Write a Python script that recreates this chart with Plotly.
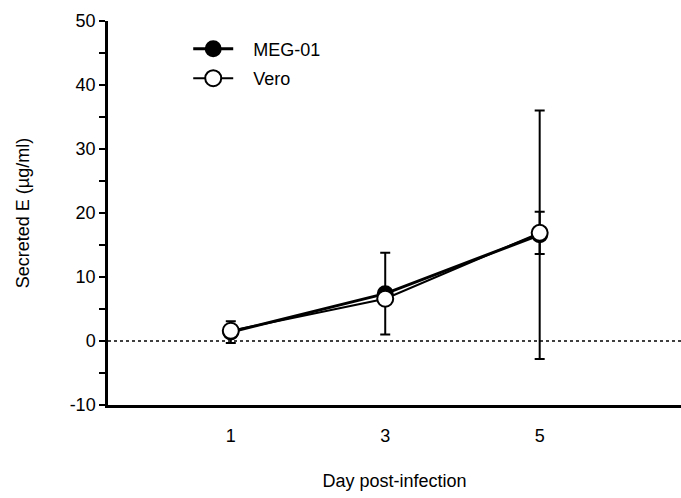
import plotly.graph_objects as go

days = [1, 3, 5]
meg01_mean = [1.4, 7.4, 16.6]
meg01_sd = [1.7, 6.4, 19.4]
vero_mean = [1.6, 6.6, 16.9]
vero_sd = [0.4, 0.5, 3.3]
y_ticks = [-10, 0, 10, 20, 30, 40, 50]
y_ticktext = ["-10", "0", "10", "20", "30", "40", "50"]

FONT = "Arial, Liberation Sans, sans-serif"
PAD = "\u00a0\u00a0\u00a0"

fig = go.Figure()

# zero reference line
fig.add_shape(type="line", xref="paper", yref="y", x0=0, x1=1, y0=0, y1=0,
              line=dict(color="black", width=1.5, dash="dot"), layer="below")

fig.add_trace(go.Scatter(
    x=days, y=meg01_mean, name=PAD + "MEG-01", mode="lines+markers",
    legendgroup="a",
    line=dict(color="black", width=3),
    marker=dict(symbol="circle", size=15, color="black",
                line=dict(color="black", width=2)),
    error_y=dict(type="data", array=meg01_sd, visible=True,
                 color="black", thickness=2, width=5),
))
fig.add_trace(go.Scatter(
    x=days, y=vero_mean, name=PAD + "Vero", mode="lines+markers",
    legendgroup="b",
    line=dict(color="black", width=2),
    marker=dict(symbol="circle", size=16, color="white",
                line=dict(color="black", width=2)),
    error_y=dict(type="data", array=vero_sd, visible=True,
                 color="black", thickness=2, width=5),
))

fig.update_layout(
    width=681, height=498,
    margin=dict(l=108, r=0, t=21, b=93),
    plot_bgcolor="white", paper_bgcolor="white",
    font=dict(family=FONT, size=18, color="black"),
    showlegend=True,
    legend=dict(x=0.14, y=0.975, xanchor="left", yanchor="top",
                bgcolor="rgba(0,0,0,0)", font=dict(size=18),
                itemwidth=40, tracegroupgap=3),
)
fig.update_xaxes(
    range=[-0.59, 6.83], tickvals=days, ticktext=["1", "3", "5"],
    showline=True, linecolor="black", linewidth=2.5,
    ticks="", showgrid=False, zeroline=False,
    ticklabelstandoff=13,
    title=dict(text="Day post-infection", standoff=30, font=dict(size=18)),
)
fig.update_yaxes(
    range=[-10, 50], tickvals=y_ticks, ticktext=y_ticktext,
    showline=True, linecolor="black", linewidth=2.5,
    ticks="outside", ticklen=6, tickwidth=2, tickcolor="black",
    minor=dict(tickvals=[-5, 5, 15, 25, 35, 45], ticks="outside",
               ticklen=6, tickwidth=2, tickcolor="black"),
    showgrid=False, zeroline=False,
    title=dict(text="Secreted E (µg/ml)", standoff=36, font=dict(size=18)),
)

fig.write_html("out.html")
